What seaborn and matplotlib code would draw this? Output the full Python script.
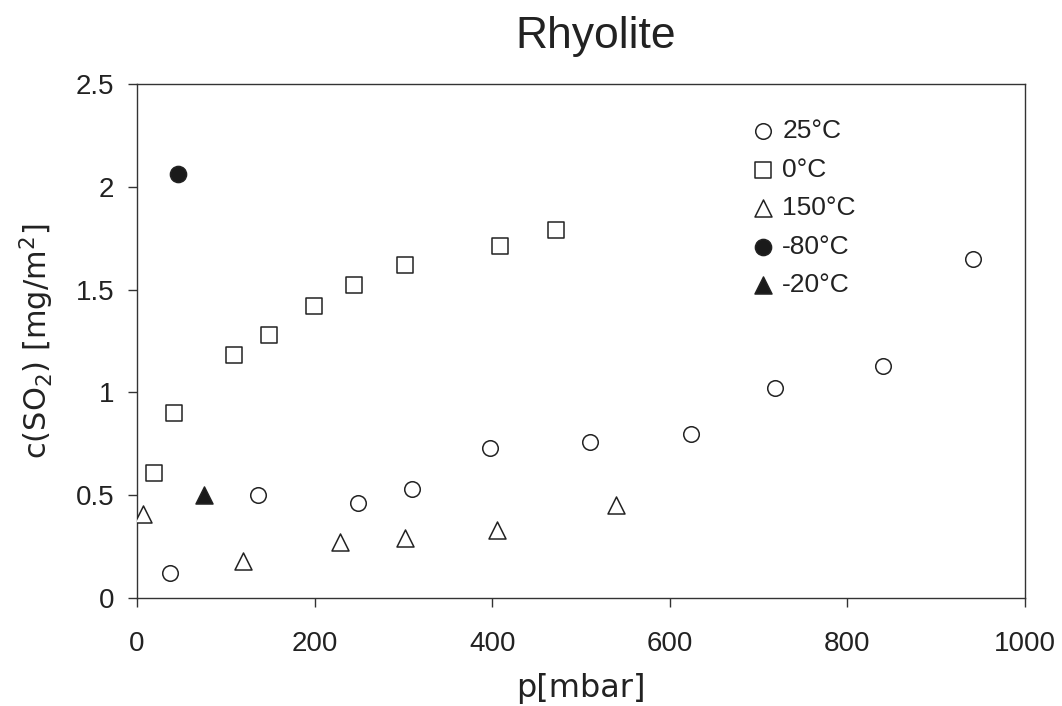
import matplotlib
matplotlib.use("Agg")
import matplotlib.pyplot as plt
import seaborn as sns

# ---- data ----
p_25 = [37, 136, 249, 310, 398, 510, 624, 718, 840, 942]
c_25 = [0.12, 0.50, 0.46, 0.53, 0.73, 0.76, 0.80, 1.02, 1.13, 1.65]

p_0 = [19, 42, 109, 149, 199, 244, 302, 409, 472]
c_0 = [0.61, 0.90, 1.18, 1.28, 1.42, 1.52, 1.62, 1.71, 1.79]

p_150 = [7, 119, 229, 302, 405, 539]
c_150 = [0.41, 0.18, 0.27, 0.29, 0.33, 0.45]

p_m80 = [46]
c_m80 = [2.06]

p_m20 = [75]
c_m20 = [0.50]

labels = ["25°C", "0°C", "150°C", "-80°C", "-20°C"]
x_ticks = [0, 200, 400, 600, 800, 1000]
y_ticks = [0, 0.5, 1, 1.5, 2, 2.5]
y_tick_labels = ["0", "0.5", "1", "1.5", "2", "2.5"]

sns.set_style("ticks")
plt.rcParams['font.family'] = ['Liberation Sans', 'DejaVu Sans']

fig = plt.figure(figsize=(10.62, 7.06), dpi=100)
W, H = 1062, 706
ax = fig.add_axes([137 / W, 1 - 598 / H, (1025 - 137) / W, (598 - 84) / H])

edge = "#222222"
series = [
    (p_25, c_25, "o", "white", 125),
    (p_0, c_0, "s", "white", 125),
    (p_150, c_150, "^", "white", 150),
    (p_m80, c_m80, "o", "#1a1a1a", 135),
    (p_m20, c_m20, "^", "#1a1a1a", 150),
]
for (px, cy, mk, fc, sz), lab in zip(series, labels):
    sns.scatterplot(x=px, y=cy, ax=ax, marker=mk, s=sz, color=fc,
                    edgecolor=edge, linewidth=1.1, label=lab, zorder=3)

ax.set_xlim(0, 1000)
ax.set_ylim(0, 2.5)
ax.set_xticks(x_ticks)
ax.set_xticklabels([str(t) for t in x_ticks])
ax.set_yticks(y_ticks)
ax.set_yticklabels(y_tick_labels)

for s in ax.spines.values():
    s.set_color("#333333")
    s.set_linewidth(1.0)
    s.set_visible(True)

ax.tick_params(axis="both", direction="out", length=6.5, width=1.0,
               color="#333333", labelsize=20, labelcolor="#222222")
ax.tick_params(axis="x", pad=17)
ax.tick_params(axis="y", pad=10)

ax.set_xlabel("p[mbar]", fontsize=23, family="DejaVu Sans", color="#222222", labelpad=12)
ax.set_ylabel("c(SO$_2$) [mg/m$^2$]", fontsize=22, family="DejaVu Sans",
              color="#222222", labelpad=14)

fig.text(596 / W, 1 - 48 / H, "Rhyolite", ha="center", va="baseline",
         fontsize=32, color="#222222")

leg = ax.legend(loc="upper left", bbox_to_anchor=((752 - 137) / 888, (598 - 119) / 514),
                frameon=False, fontsize=19, handlelength=0.8, handletextpad=0.35,
                labelspacing=0.55, borderpad=0, borderaxespad=0, markerscale=1.0)
for t in leg.get_texts():
    t.set_color("#222222")

fig.savefig("out.png", dpi=100)
